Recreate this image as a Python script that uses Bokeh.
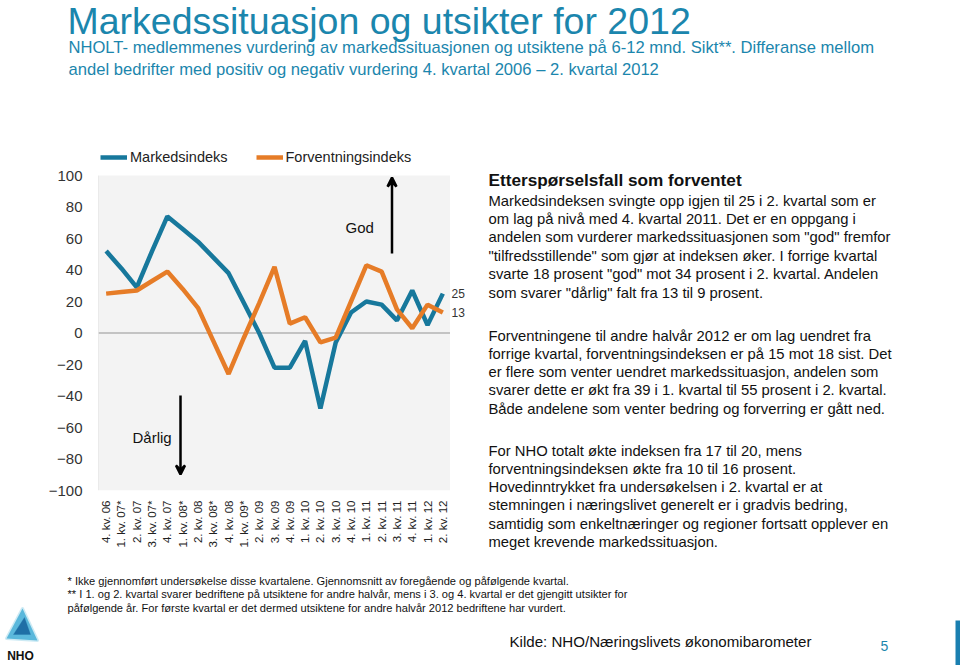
import math
from bokeh.plotting import figure
from bokeh.models import (FactorRange, Range1d, Label, Span, Arrow, VeeHead, GridBox,
                          Legend, LegendItem, PolyAnnotation, BoxAnnotation, FixedTicker)
from bokeh.embed import file_html
from bokeh.resources import INLINE

# ---------------- data ----------------
categories = ["4. kv. 06", "1. kv. 07*", "2. kv. 07", "3. kv. 07*", "4. kv. 07",
              "1. kv. 08*", "2. kv. 08", "3. kv. 08*", "4. kv. 08", "1. kv. 09*",
              "2. kv. 09", "3. kv. 09", "4. kv. 09", "1. kv. 10", "2. kv. 10",
              "3. kv. 10", "4. kv. 10", "1. kv. 11", "2. kv. 11", "3. kv. 11",
              "4. kv. 11", "1. kv. 12", "2. kv. 12"]
markedsindeks = [52, 41, 29, 52, 74, 66, 58, 48, 38, 19, 0, -22, -22, -5, -48, -6,
                 13, 20, 18, 8, 27, 5, 25]
forventningsindeks = [25, 26, 27, 33, 39, 28, 16, -5, -26, -3, 19, 42, 6, 10, -6, -3,
                      20, 43, 39, 15, 3, 18, 13]
series_names = ["Markedsindeks", "Forventningsindeks"]
end_labels = ["25", "13"]
y_ticks = [-100, -80, -60, -40, -20, 0, 20, 40, 60, 80, 100]
y_min, y_max = -100, 100

title_text = "Markedssituasjon og utsikter for 2012"
subtitle_lines = [
    "NHOLT- medlemmenes vurdering av markedssituasjonen og utsiktene på 6-12 mnd. Sikt**. Differanse mellom",
    "andel bedrifter med positiv og negativ vurdering 4. kvartal 2006 \u2013 2. kvartal 2012",
]
header_text = "Etterspørselsfall som forventet"
para1 = [
    "Markedsindeksen svingte opp igjen til 25 i 2. kvartal som er",
    "om lag på nivå med 4. kvartal 2011. Det er en oppgang i",
    "andelen som vurderer markedssituasjonen som \"god\" fremfor",
    "\"tilfredsstillende\" som gjør at indeksen øker. I forrige kvartal",
    "svarte 18 prosent \"god\" mot 34 prosent i 2. kvartal. Andelen",
    "som svarer \"dårlig\" falt fra 13 til 9 prosent.",
]
para2 = [
    "Forventningene til andre halvår 2012 er om lag uendret fra",
    "forrige kvartal, forventningsindeksen er på 15 mot 18 sist. Det",
    "er flere som venter uendret markedssituasjon, andelen som",
    "svarer dette er økt fra 39 i 1. kvartal til 55 prosent i 2. kvartal.",
    "Både andelene som venter bedring og forverring er gått ned.",
]
para3 = [
    "For NHO totalt økte indeksen fra 17 til 20, mens",
    "forventningsindeksen økte fra 10 til 16 prosent.",
    "Hovedinntrykket fra undersøkelsen i 2. kvartal er at",
    "stemningen i næringslivet generelt er i gradvis bedring,",
    "samtidig som enkeltnæringer og regioner fortsatt opplever en",
    "meget krevende markedssituasjon.",
]
footnotes = [
    "* Ikke gjennomført undersøkelse disse kvartalene. Gjennomsnitt av foregående og påfølgende kvartal.",
    "** I 1. og 2. kvartal svarer bedriftene på utsiktene for andre halvår, mens i 3. og 4. kvartal er det gjengitt utsikter for",
    "påfølgende år. For første kvartal er det dermed utsiktene for andre halvår 2012 bedriftene har vurdert.",
]
source_text = "Kilde: NHO/Næringslivets økonomibarometer"
page_number = "5"

# ---------------- style / layout ----------------
BLUE = "#17789c"
ORANGE = "#e67c27"
TEAL = "#1b86ad"
SANS = "Liberation Sans"

PAGE_W, PAGE_H = 960, 665
CHART_W, CHART_H = 450, 560           # chart figure occupies page (0,0)-(450,560)
FRAME_L, FRAME_R = 98, 450            # plot area, page px
PLOT_T, PLOT_B = 175, 490             # where +100 / -100 sit
FRAME_T = 140                         # frame extended upward to hold the legend
PX_PER_UNIT = (PLOT_B - PLOT_T) / (y_max - y_min)

# ---------- background page figure (all free text) ----------
bg = figure(width=PAGE_W, height=PAGE_H, x_range=Range1d(0, PAGE_W),
            y_range=Range1d(PAGE_H, 0), x_axis_type=None, y_axis_type=None,
            output_backend="svg", toolbar_location=None, min_border=0)
bg.outline_line_color = None
bg.xgrid.grid_line_color = None
bg.ygrid.grid_line_color = None
bg.background_fill_color = "white"
bg.border_fill_color = "white"


def blab(text, px, py, size, color="#111111", style="normal", align="left",
         baseline="middle", font=SANS):
    bg.add_layout(Label(x=px, y=py, text=text, text_font=font,
                        text_font_size=f"{size}px", text_color=color,
                        text_font_style=style, text_align=align,
                        text_baseline=baseline))


blab(title_text, 67, 20, 37.5, color=TEAL)
blab(subtitle_lines[0], 68, 47, 16.6, color=TEAL)
blab(subtitle_lines[1], 68, 69, 16.6, color=TEAL)

blab(end_labels[0], 451, 293, 12, color="#333333")
blab(end_labels[1], 451, 312, 12, color="#333333")

blab(header_text, 488, 179, 17.2, style="bold")
for i, t in enumerate(para1):
    blab(t, 488, 200 + i * 18.4, 14.8)
for i, t in enumerate(para2):
    blab(t, 488, 335 + i * 18.3, 14.8)
for i, t in enumerate(para3):
    blab(t, 488, 450 + i * 18.3, 14.8)

for i, t in enumerate(footnotes):
    blab(t, 67, 580 + i * 13.5, 11.1)
blab(source_text, 509, 641, 15.1)
blab(page_number, 884, 645, 14, color=TEAL, align="center")

bg.add_layout(PolyAnnotation(xs=[22, 6, 37], ys=[608, 638, 640],
                             fill_color="#5bb8dc", fill_alpha=1, line_color="#5bb8dc",
                             line_width=3, line_join="round"))
bg.add_layout(PolyAnnotation(xs=[24, 13, 30], ys=[617, 634, 634],
                             fill_color="#1f6fa6", fill_alpha=1, line_color="#1f6fa6",
                             line_width=1))
blab("NHO", 20, 655, 12, style="bold", align="center")
bg.add_layout(BoxAnnotation(left=955, right=960, top=620, bottom=665,
                            fill_color="#1a7fb0", fill_alpha=1, line_color=None))

# ---------- chart figure ----------
y_top = y_max + (PLOT_T - FRAME_T) / PX_PER_UNIT
p = figure(width=CHART_W, height=CHART_H,
           x_range=FactorRange(*categories, range_padding=0),
           y_range=Range1d(y_min, y_top),
           output_backend="svg", toolbar_location=None,
           min_border_left=FRAME_L, min_border_right=CHART_W - FRAME_R,
           min_border_top=FRAME_T, min_border_bottom=CHART_H - PLOT_B)
p.outline_line_color = None
p.background_fill_alpha = 0
p.border_fill_alpha = 0
p.xgrid.grid_line_color = None
p.ygrid.grid_line_color = None

p.add_layout(BoxAnnotation(bottom=y_min, top=y_max, fill_color="#f3f3f3", fill_alpha=1,
                           line_color=None, level="underlay"))
p.add_layout(BoxAnnotation(bottom=y_min, top=y_max, left=-1.5, right=0,
                           left_units="screen", right_units="screen",
                           fill_color="#b3b3b3", fill_alpha=1, line_color=None,
                           level="underlay"))

p.yaxis.ticker = FixedTicker(ticks=y_ticks)
p.yaxis.axis_line_color = None
p.yaxis.major_tick_line_color = None
p.yaxis.minor_tick_line_color = None
p.yaxis.major_label_text_font = SANS
p.yaxis.major_label_text_font_size = "15px"
p.yaxis.major_label_text_color = "#333333"
p.yaxis.major_label_standoff = 10

p.xaxis.axis_line_color = None
p.xaxis.major_tick_line_color = None
p.xaxis.minor_tick_line_color = None
p.xaxis.major_label_orientation = math.pi / 2
p.xaxis.major_label_text_font = SANS
p.xaxis.major_label_text_font_size = "11.5px"
p.xaxis.major_label_text_color = "#222222"
p.xaxis.major_label_standoff = 4

p.add_layout(Span(location=0, dimension="width", line_color="#b3b3b3", line_width=1.5,
                  level="underlay"))

r1 = p.line(x=categories, y=markedsindeks, line_color=BLUE, line_width=4.5)
r2 = p.line(x=categories, y=forventningsindeks, line_color=ORANGE, line_width=4.5)

legend = Legend(items=[LegendItem(label=series_names[0], renderers=[r1]),
                       LegendItem(label=series_names[1], renderers=[r2])],
                orientation="horizontal",
                location=(2, PLOT_B - 166),
                padding=0, margin=0, spacing=28, glyph_width=27, glyph_height=18,
                label_height=18, label_standoff=3, label_text_font=SANS,
                label_text_font_size="14.5px", label_text_color="#222222",
                border_line_color=None, background_fill_alpha=0)
p.add_layout(legend)


def csx(px):
    return px - FRAME_L


def csy(py):
    return PLOT_B - py


def clab(text, px, py, size):
    p.add_layout(Label(x=csx(px), y=csy(py), x_units="screen", y_units="screen",
                       text=text, text_font=SANS, text_font_size=f"{size}px",
                       text_color="#111111", text_baseline="middle"))


clab("God", 345, 227, 15)
clab("Dårlig", 132, 437, 15)
p.add_layout(Arrow(x_start=csx(391.5), y_start=csy(253), x_end=csx(391.5),
                   y_end=csy(177), start_units="screen", end_units="screen",
                   line_width=2.5, line_color="black",
                   end=VeeHead(size=9, line_width=2.5, line_color="black")))
p.add_layout(Arrow(x_start=csx(180), y_start=csy(395), x_end=csx(180),
                   y_end=csy(474), start_units="screen", end_units="screen",
                   line_width=2.5, line_color="black",
                   end=VeeHead(size=9, line_width=2.5, line_color="black")))

# keep each figure's own frame geometry (no cross-figure frame alignment)
for f in (bg, p):
    if "frame_align" in f.properties():
        f.frame_align = False

layout = GridBox(children=[(bg, 0, 0), (p, 0, 0)])
open("out.html", "w").write(file_html(layout, INLINE))
